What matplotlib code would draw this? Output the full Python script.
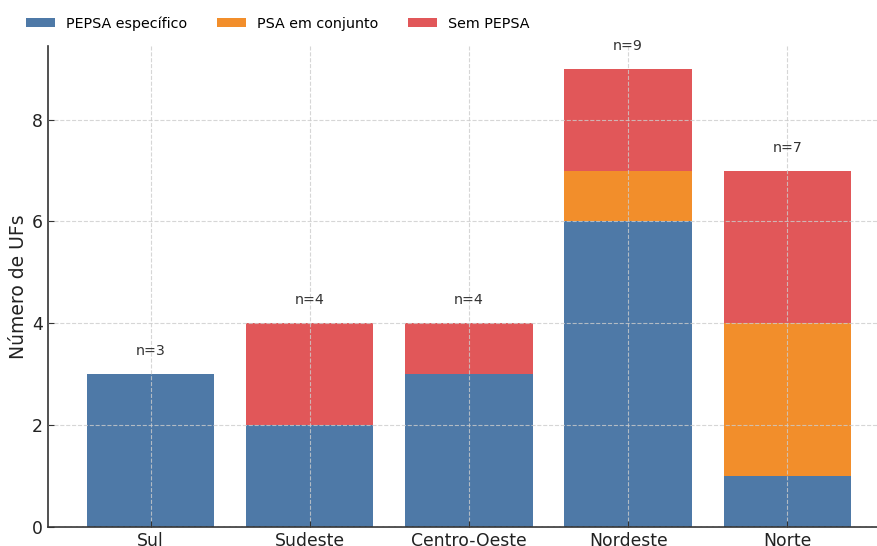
import numpy as np
import matplotlib.pyplot as plt

# dados por região
regioes = ['Sul', 'Sudeste', 'Centro-Oeste', 'Nordeste', 'Norte']
pepsa_especifico = [3, 2, 3, 6, 1]
psa_conjunto = [0, 0, 0, 1, 3]
sem_pepsa = [0, 2, 1, 2, 3]

cores = ['#4E79A7', '#F28E2B', '#E15759']

fig = plt.figure(figsize=(8.78, 5.46), dpi=100)
ax = fig.add_axes([0.0547, 0.035, 0.9453, 0.881])

x = np.arange(len(regioes))
a = np.array(pepsa_especifico)
b = np.array(psa_conjunto)
c = np.array(sem_pepsa)

ax.bar(x, a, 0.8, color=cores[0], label='PEPSA específico')
ax.bar(x, b, 0.8, bottom=a, color=cores[1], label='PSA em conjunto')
ax.bar(x, c, 0.8, bottom=a + b, color=cores[2], label='Sem PEPSA')

total = a + b + c
for xi, t in zip(x, total):
    ax.text(xi, t + 0.45, f'n={t}', ha='center', va='center', fontsize=10.3, color='#333333')

ax.set_xlim(-0.644, 4.57)
ax.set_ylim(0, 9.45)
ax.set_xticks(x)
ax.set_xticklabels(regioes, fontsize=12.4, color='#222222')
ax.set_yticks([0, 2, 4, 6, 8])
ax.tick_params(axis='y', labelsize=12.4, labelcolor='#222222')
ax.tick_params(direction='in', length=4, color='#333333')
ax.set_ylabel('Número de UFs', fontsize=13.5, color='#222222', labelpad=3)

# grade tracejada por cima das barras
ax.set_axisbelow(False)
ax.grid(True, linestyle='--', color='#cccccc', linewidth=0.8, alpha=0.8)

for s in ['top', 'right']:
    ax.spines[s].set_visible(False)
for s in ['left', 'bottom']:
    ax.spines[s].set_color('#333333')
    ax.spines[s].set_linewidth(1.2)

fig.legend(loc='center left', bbox_to_anchor=(0.0152, 0.957), ncol=3, frameon=False,
           fontsize=10.3, handlelength=2.03, handleheight=0.65, handletextpad=0.77,
           columnspacing=2.06)

fig.savefig('out.png', dpi=100)
